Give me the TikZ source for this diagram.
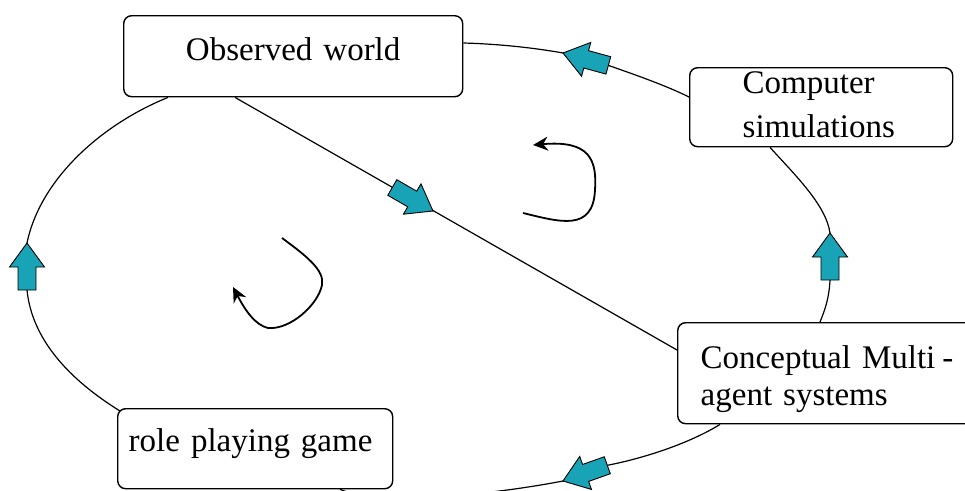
\documentclass[tikz,border=0pt]{standalone}
\usepackage{fontspec}
\setmainfont{Liberation Serif}
\usetikzlibrary{calc,arrows.meta}
\definecolor{tealfill}{RGB}{24,164,182}
\begin{document}
\begin{tikzpicture}[x=1pt,y=-1pt,
  box/.style={draw=black, line width=1.4pt, rounded corners=8pt, inner xsep=0pt, inner ysep=0pt,
    anchor=north west, font=\fontsize{33}{40}\selectfont},
  conn/.style={line width=1.2pt},
  curl/.style={line width=1.8pt, -{Stealth[length=15pt,width=14pt]}},
  blockarrow/.pic={\filldraw[fill=tealfill, draw=black, line width=0.9pt, line join=miter]
    (0,0) -- (-24,17.5) -- (-24,9) -- (-47,9) -- (-47,-9) -- (-24,-9) -- (-24,-17.5) -- cycle;}
]
\useasboundingbox (0,0) rectangle (965,490);
\fill[white] (0,0) rectangle (965,490);
\clip (0,0) rectangle (965,490);

% boxes
\node[box, minimum width=339pt, text width=330pt, align=center, text height=45pt, text depth=36pt]
  (ow) at (123,15) {Observed world};
\node[box, minimum width=263pt, text width=157pt, align=left, text height=26pt, text depth=53pt]
  (cs) at (689,67) {Computer\\[4pt]simulations};
\node[box, minimum width=340pt, text width=294pt, align=left, text height=46pt, text depth=55pt]
  (cm) at (677,322) {Conceptual Multi\hspace{7pt}-\\[-3pt]agent systems};
\node[box, minimum width=275pt, text width=253pt, align=left, text height=43pt, text depth=37pt]
  (rp) at (117,408) {role playing game};

% arrow positions
\coordinate (a1tip) at (27,243);   \coordinate (a1tail) at (27,290);
\coordinate (a3tip) at (563,53);   \coordinate (a3tail) at (608.4,65.4);
\coordinate (a4tip) at (830,233);  \coordinate (a4tail) at (830,280);
\coordinate (a5tip) at (563,481);  \coordinate (a5tail) at (607.3,465.3);

% connectors
\draw[conn] ($(ow.south west)+(45,0)$) .. controls (100,125) and (40,180) .. (a1tip)
  -- (a1tail) .. controls (32,340) and (70,380) .. ($(rp.north west)+(3,3)$);
\draw[conn] ($(ow.south west)+(112,0)$) -- ($(cm.north west)+(0,28)$);
\draw[conn] ($(ow.north east)+(0,28)$) .. controls (500,44) and (535,48) .. (a3tip)
  -- (a3tail) .. controls (630,73) and (665,85) .. ($(cs.north west)+(0,30)$);
\draw[conn] ($(cs.south west)+(81,0)$) .. controls (795,175) and (826,205) .. (a4tip)
  -- (a4tail) .. controls (829,300) and (824,312) .. ($(cm.north west)+(143,0)$);
\draw[conn] ($(cm.south west)+(43,0)$) .. controls (690,443) and (645,458) .. (a5tail)
  -- (a5tip) .. controls (490,495) and (380,506) .. ($(rp.south west)+(223,0)$);

% block arrows
\pic[rotate=90] at (a1tip) {blockarrow};
\pic[rotate=-30] at (433,211) {blockarrow};
\pic[rotate=164.7] at (a3tip) {blockarrow};
\pic[rotate=90] at (a4tip) {blockarrow};
\pic[rotate=199.6] at (a5tip) {blockarrow};

% rotation arrows
\draw[curl] (523,213) .. controls (560,222) and (593,232) .. (595,190)
  .. controls (597,160) and (590,140) .. (533,145);
\draw[curl] (282,238) .. controls (305,255) and (325,270) .. (322,285)
  .. controls (318,305) and (290,330) .. (268,328)
  .. controls (255,325) and (245,310) .. (233,287);
\end{tikzpicture}
\end{document}
